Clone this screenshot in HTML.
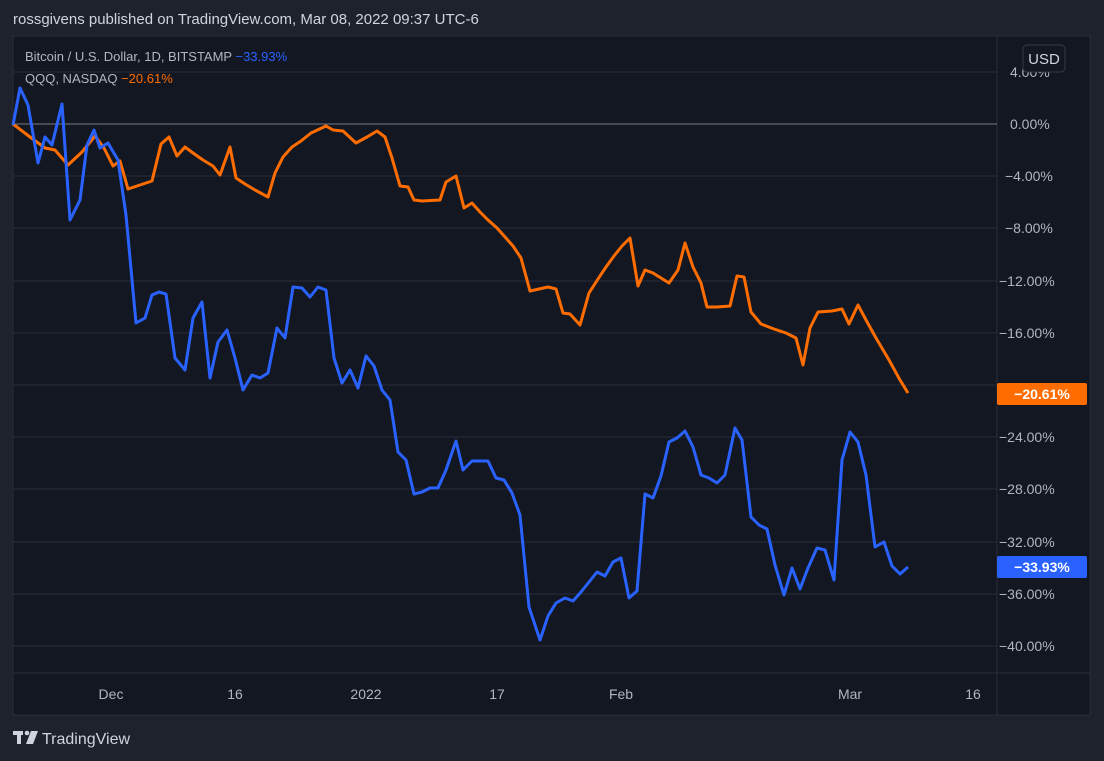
<!DOCTYPE html>
<html><head><meta charset="utf-8"><style>
html,body{margin:0;padding:0;background:#1e222d;width:1104px;height:761px;overflow:hidden;font-family:"Liberation Sans","DejaVu Sans",sans-serif;}
svg{display:block}
</style></head><body>
<svg width="1104" height="761" viewBox="0 0 1104 761" xmlns="http://www.w3.org/2000/svg" font-family="Liberation Sans, DejaVu Sans, sans-serif">
<rect width="1104" height="761" fill="#1e222d"/>
<text x="13" y="24" fill="#d1d4dc" font-size="15">rossgivens published on TradingView.com, Mar 08, 2022 09:37 UTC-6</text>
<rect x="13" y="36" width="1077" height="679" fill="#131722" stroke="#2a2e39" stroke-width="1"/>
<g stroke="#2a2e39" stroke-width="1">
<line x1="13" y1="72" x2="997" y2="72"/>
<line x1="13" y1="176" x2="997" y2="176"/>
<line x1="13" y1="228" x2="997" y2="228"/>
<line x1="13" y1="281" x2="997" y2="281"/>
<line x1="13" y1="333" x2="997" y2="333"/>
<line x1="13" y1="385" x2="997" y2="385"/>
<line x1="13" y1="437" x2="997" y2="437"/>
<line x1="13" y1="489" x2="997" y2="489"/>
<line x1="13" y1="542" x2="997" y2="542"/>
<line x1="13" y1="594" x2="997" y2="594"/>
<line x1="13" y1="646" x2="997" y2="646"/>
<line x1="997" y1="36" x2="997" y2="715"/>
<line x1="13" y1="673" x2="1090" y2="673"/>
</g>
<line x1="13" y1="124" x2="997" y2="124" stroke="#787b86" stroke-width="1"/>
<g fill="#b2b5be" font-size="14">
<text x="1010" y="77">4.00%</text>
<text x="1010" y="129">0.00%</text>
<text x="1005" y="181">−4.00%</text>
<text x="1005" y="233">−8.00%</text>
<text x="999" y="286">−12.00%</text>
<text x="999" y="338">−16.00%</text>
<text x="999" y="442">−24.00%</text>
<text x="999" y="494">−28.00%</text>
<text x="999" y="547">−32.00%</text>
<text x="999" y="599">−36.00%</text>
<text x="999" y="651">−40.00%</text>
</g>
<g fill="#b2b5be" font-size="14" text-anchor="middle">
<text x="111" y="699">Dec</text>
<text x="235" y="699">16</text>
<text x="366" y="699">2022</text>
<text x="497" y="699">17</text>
<text x="621" y="699">Feb</text>
<text x="850" y="699">Mar</text>
<text x="973" y="699">16</text>
</g>
<rect x="1023" y="45" width="42" height="27" rx="4" fill="#131722" stroke="#363a45"/>
<text x="1044" y="64" fill="#d1d4dc" font-size="15" text-anchor="middle">USD</text>
<text x="25" y="61" fill="#b2b5be" font-size="13">Bitcoin / U.S. Dollar, 1D, BITSTAMP <tspan fill="#2962ff">−33.93%</tspan></text>
<text x="25" y="83" fill="#b2b5be" font-size="13">QQQ, NASDAQ <tspan fill="#ff6d00">−20.61%</tspan></text>
<polyline fill="none" stroke="#ff6d00" stroke-width="3" stroke-linejoin="round" points="13,124 30,137 45,148 55,150 68,165 82,152 95,136 104,148 113,166 120,161 128,189 140,185 152,181 161,144 169,137 177,156 185,147 193,153 203,160 213,166 220,175 230,147 236,178 245,184 255,190 268,197 275,173 283,157 292,147 301,141 311,133 326,126 333,130 343,131 356,143 367,137 377,131 385,137 392,158 400,186 408,187 414,200 422,201 440,200 446,182 456,176 464,208 472,203 480,212 488,220 497,228 505,237 513,246 521,258 530,291 548,287 556,289 563,313 570,314 580,325 589,293 598,279 606,267 614,256 622,246 630,238 638,286 645,270 653,273 661,278 669,283 678,270 685,243 693,267 701,283 707,307 717,307 730,306 737,276 744,277 751,312 761,324 774,329 786,333 796,338 803,365 810,328 818,312 832,311 842,309 849,324 858,305 866,320 876,338 889,360 900,380 908,393"/>
<polyline fill="none" stroke="#2962ff" stroke-width="3" stroke-linejoin="round" points="13,125 20,88 28,105 38,163 45,137 52,145 62,104 70,220 80,200 87,145 94,130 100,148 108,143 118,160 126,215 136,323 145,318 152,295 159,292 166,294 175,358 185,370 193,318 202,302 210,378 218,342 227,330 235,358 243,390 252,375 260,378 268,373 277,328 285,338 293,287 302,288 310,297 318,287 326,290 334,358 342,383 350,370 358,388 366,356 374,366 382,390 390,400 398,452 406,460 414,494 422,492 430,488 438,488 446,470 456,441 463,470 472,461 480,461 488,461 496,478 504,480 512,493 520,515 529,607 540,640 548,616 556,603 565,598 573,601 581,592 589,582 597,572 605,576 613,562 621,558 629,598 637,591 645,494 653,498 661,476 669,442 677,438 685,431 693,447 701,475 709,478 717,483 725,475 735,428 742,440 751,517 759,525 767,529 775,565 784,595 792,568 800,589 808,568 817,548 825,550 834,580 842,460 850,432 858,442 866,475 875,547 884,542 892,566 900,574 908,567"/>
<rect x="997" y="383" width="90" height="22" rx="2" fill="#ff6d00"/>
<text x="1042" y="399" fill="#ffffff" font-size="14" font-weight="bold" text-anchor="middle">−20.61%</text>
<rect x="997" y="556" width="90" height="22" rx="2" fill="#2962ff"/>
<text x="1042" y="572" fill="#ffffff" font-size="14" font-weight="bold" text-anchor="middle">−33.93%</text>
<g fill="#d1d4dc">
<rect x="13" y="731" width="10" height="4"/><rect x="17" y="731" width="4" height="13"/>
<circle cx="27" cy="733" r="2.3"/>
<polygon points="31,731 38,731 33,744 26,744"/>
</g>
<text x="42" y="744" fill="#d1d4dc" font-size="16">TradingView</text>
</svg>
</body></html>
